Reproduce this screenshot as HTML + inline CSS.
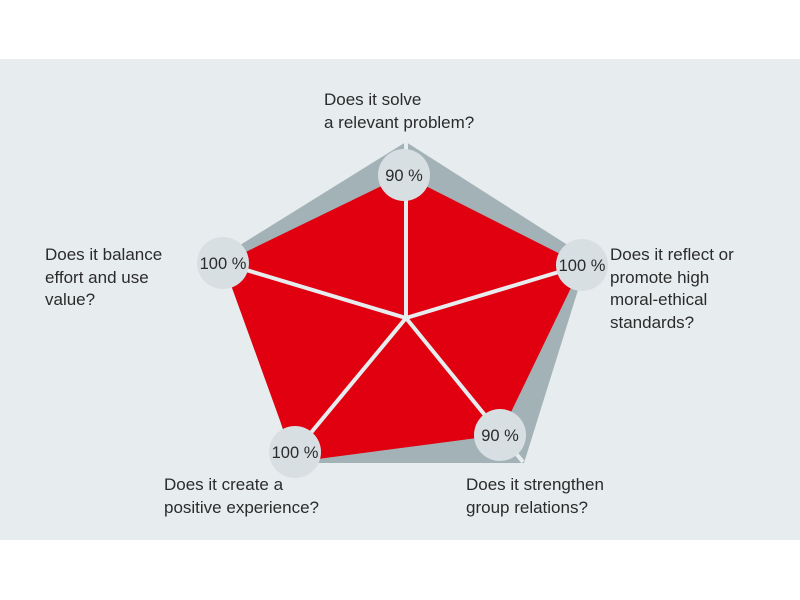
<!DOCTYPE html>
<html><head><style>
body{margin:0;width:800px;height:600px;background:#fff;overflow:hidden}
svg{display:block}
text{font-family:"Liberation Sans",sans-serif;font-size:17px;fill:#2b2b2b}
.p{font-size:16.5px;text-anchor:middle}
</style></head><body>
<svg width="800" height="600" viewBox="0 0 800 600">
<rect x="0" y="59" width="800" height="481" fill="#e7ecee"/>
<polygon points="406,142 588,258 524,463 292,463 232,250" fill="#a2b2b6"/>
<polygon points="404,175 582,265 500,435 295,462 223,263" fill="#e0000f"/>
<g stroke="#e7ecee" stroke-width="4">
<line x1="406" y1="318" x2="406" y2="142"/>
<line x1="406" y1="318" x2="582" y2="265"/>
<line x1="406" y1="318" x2="523" y2="462"/>
<line x1="406" y1="318" x2="295" y2="452"/>
<line x1="406" y1="318" x2="223" y2="263"/>
</g>
<g fill="#d8dfe2">
<circle cx="404" cy="175" r="26"/>
<circle cx="582" cy="265" r="26"/>
<circle cx="500" cy="435" r="26"/>
<circle cx="295" cy="452" r="26"/>
<circle cx="223" cy="263" r="26"/>
</g>
<text class="p" x="404" y="181">90 %</text>
<text class="p" x="582" y="271">100 %</text>
<text class="p" x="500" y="441">90 %</text>
<text class="p" x="295" y="458">100 %</text>
<text class="p" x="223" y="269">100 %</text>
<text x="324" y="105">Does it solve</text>
<text x="324" y="128">a relevant problem?</text>
<text x="45" y="260">Does it balance</text>
<text x="45" y="283">effort and use</text>
<text x="45" y="305">value?</text>
<text x="610" y="260">Does it reflect or</text>
<text x="610" y="283">promote high</text>
<text x="610" y="305">moral-ethical</text>
<text x="610" y="328">standards?</text>
<text x="466" y="490">Does it strengthen</text>
<text x="466" y="513">group relations?</text>
<text x="164" y="490">Does it create a</text>
<text x="164" y="513">positive experience?</text>
</svg>
</body></html>
